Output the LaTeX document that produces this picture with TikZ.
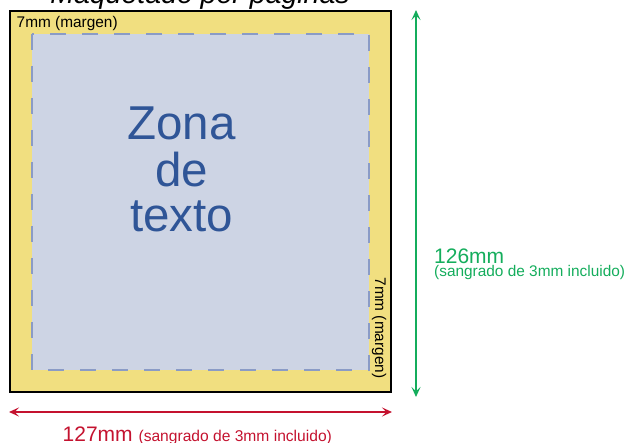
\documentclass[tikz,border=0pt]{standalone}
\usepackage{fontspec}
\setmainfont{Liberation Sans}
\usetikzlibrary{arrows.meta}
\definecolor{pageyellow}{HTML}{F1DF80}
\definecolor{zonefill}{HTML}{CDD4E4}
\definecolor{zonedash}{HTML}{8A9BC6}
\definecolor{zonetext}{HTML}{2F5597}
\definecolor{dimgreen}{HTML}{14AD5C}
\definecolor{dimred}{HTML}{C4122F}
\tikzset{
  pagebox/.style={draw=black, line width=1.8pt, fill=pageyellow},
  zonebox/.style={draw=zonedash, line width=2pt, fill=zonefill, dash pattern=on 16pt off 16pt},
  bigtext/.style={text=zonetext, font=\fontsize{47.5}{48}\selectfont, inner sep=0pt, anchor=base},
  smalllabel/.style={font=\fontsize{15.4}{17}\selectfont, inner sep=0pt},
  dimarrow/.style={line width=1.8pt, {Stealth[length=10pt,width=9pt,inset=4.5pt]}-{Stealth[length=10pt,width=9pt,inset=4.5pt]}},
}
\begin{document}
\begin{tikzpicture}[x=1pt,y=-1pt]
\useasboundingbox (0,0) rectangle (626,443);
% page
\draw[pagebox] (10,11) rectangle (391,392);
\draw[zonebox] (32,34) rectangle (369,370);
% title (clipped at top)
\begin{scope}
\clip (0,0) rectangle (626,443);
\node[inner sep=0pt, anchor=base, font=\fontsize{28.5}{30}\selectfont\itshape] (title) at (200,4) {Maquetado por páginas};
\end{scope}
% zone text
\node[bigtext] (zona1) at (181.5,139.5) {Zona};
\node[bigtext] (zona2) at (181.5,186.5) {de};
\node[bigtext] (zona3) at (181.5,232) {texto};
% margin labels
\node[smalllabel, anchor=base west] (mtop) at (16.5,27.5) {7mm (margen)};
\node[smalllabel, rotate=-90, anchor=center] (mright) at (379,328) {7mm (margen)};
% vertical dimension
\coordinate (vtop) at (416,10);
\coordinate (vbot) at (416,397);
\draw[dimarrow, dimgreen] (vtop) -- (vbot);
\node[text=dimgreen, font=\fontsize{21}{23}\selectfont, inner sep=0pt, anchor=base west] (hval) at (434,263.3) {126mm};
\node[text=dimgreen, smalllabel, anchor=base west] (hnote) at (434,277) {(sangrado de 3mm incluido)};
% horizontal dimension
\coordinate (hleft) at (9,412);
\coordinate (hright) at (392,412);
\draw[dimarrow, dimred] (hleft) -- (hright);
\node[text=dimred, font=\fontsize{21}{23}\selectfont, inner sep=0pt, anchor=base west] (wval) at (62.5,441.5) {127mm {\fontsize{15.6}{17}\selectfont (sangrado de 3mm incluido)}};
\end{tikzpicture}
\end{document}
